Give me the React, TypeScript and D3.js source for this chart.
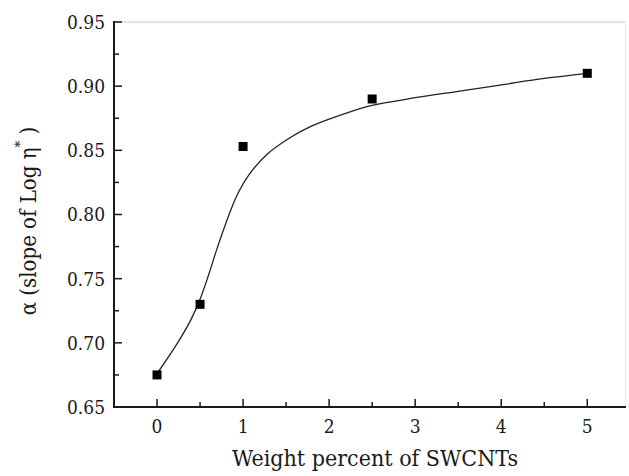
import * as d3 from 'd3';
import React from 'react';

// measured points
const wtPercent = [0, 0.5, 1, 2.5, 5];
const alphaVals = [0.675, 0.73, 0.853, 0.89, 0.91];

// fitted curve
const fitX = [0, 0.23, 0.39, 0.5, 0.6, 0.7, 0.81, 0.93, 1.08, 1.28, 1.55, 1.8, 2.2, 2.5, 3.0, 3.5, 4.0, 4.5, 5.0];
const fitY = [0.676, 0.699, 0.7175, 0.734, 0.753, 0.774, 0.795, 0.815, 0.832, 0.847, 0.86, 0.869, 0.879, 0.885, 0.891, 0.896, 0.901, 0.906, 0.91];

const xMajor = [0, 1, 2, 3, 4, 5];
const xMinor = [-0.5, 0.5, 1.5, 2.5, 3.5, 4.5];
const yMajor = [0.65, 0.7, 0.75, 0.8, 0.85, 0.9, 0.95];
const yMinor = [0.675, 0.725, 0.775, 0.825, 0.875, 0.925];

export default function App() {
  const width = 629, height = 476;
  const margin = { top: 22, right: 3, bottom: 69, left: 114 };

  const x = d3.scaleLinear().domain([-0.5, 5.45]).range([margin.left, width - margin.right]);
  const y = d3.scaleLinear().domain([0.65, 0.95]).range([height - margin.bottom, margin.top]);

  const x0 = margin.left, x1 = width - margin.right;
  const y0 = height - margin.bottom, y1 = margin.top;

  const line = d3.line<number>()
    .x((d, i) => x(fitX[i]))
    .y(d => y(d))
    .curve(d3.curveCatmullRom.alpha(0.5));

  const tf = { fontFamily: "'DejaVu Serif Condensed', 'DejaVu Serif', serif" };
  const ink = '#1a1a1a';
  const sq = 9;

  return (
    <svg width={width} height={height} style={{ position: 'absolute', left: 0, top: 0, background: '#fff' }}>
      {/* frame top / right, faint */}
      <line x1={x0} x2={x1} y1={y1} y2={y1} stroke="#c8c8c8" strokeWidth={1} />
      <line x1={x1 - 0.5} x2={x1 - 0.5} y1={y1} y2={y0} stroke="#ececec" strokeWidth={1} />

      {/* fit curve */}
      <path d={line(fitY) || ''} fill="none" stroke="#222" strokeWidth={1.3} />

      {/* markers */}
      {wtPercent.map((w, i) => (
        <rect key={i} x={x(w) - sq / 2} y={y(alphaVals[i]) - sq / 2} width={sq} height={sq} fill="#000" />
      ))}

      {/* y axis */}
      <line x1={x0} x2={x0} y1={y1 - 1} y2={y0 + 1} stroke={ink} strokeWidth={2} />
      {yMajor.map(v => (
        <g key={'ym' + v}>
          <line x1={x0} x2={x0 + 8} y1={y(v)} y2={y(v)} stroke={ink} strokeWidth={1.5} />
          <text x={x0 - 9} y={y(v)} dy="0.36em" textAnchor="end" fontSize={19} fill={ink} style={tf}>{d3.format('.2f')(v)}</text>
        </g>
      ))}
      {yMinor.map(v => (
        <line key={'yn' + v} x1={x0} x2={x0 + 5} y1={y(v)} y2={y(v)} stroke={ink} strokeWidth={1.5} />
      ))}

      {/* x axis */}
      <line x1={x0 - 1} x2={x1} y1={y0} y2={y0} stroke={ink} strokeWidth={2} />
      {xMajor.map(v => (
        <g key={'xm' + v}>
          <line x1={x(v)} x2={x(v)} y1={y0} y2={y0 - 8} stroke={ink} strokeWidth={1.5} />
          <text x={x(v)} y={y0 + 26} textAnchor="middle" fontSize={19} fill={ink} style={tf}>{v}</text>
        </g>
      ))}
      {xMinor.map(v => (
        <line key={'xn' + v} x1={x(v)} x2={x(v)} y1={y0} y2={y0 - 5} stroke={ink} strokeWidth={1.5} />
      ))}

      {/* axis titles */}
      <text x={232} y={466} textLength={286} lengthAdjust="spacingAndGlyphs" fontSize={23} fill={ink} style={tf}>Weight percent of SWCNTs</text>
      <text transform={`translate(36, 221) rotate(-90)`} textAnchor="middle" fontSize={22} fill={ink} style={tf}>
        <tspan>α  (slope of Log η</tspan>
        <tspan dy="-11" fontSize={15}>*</tspan>
        <tspan dy="11"> )</tspan>
      </text>
    </svg>
  );
}
